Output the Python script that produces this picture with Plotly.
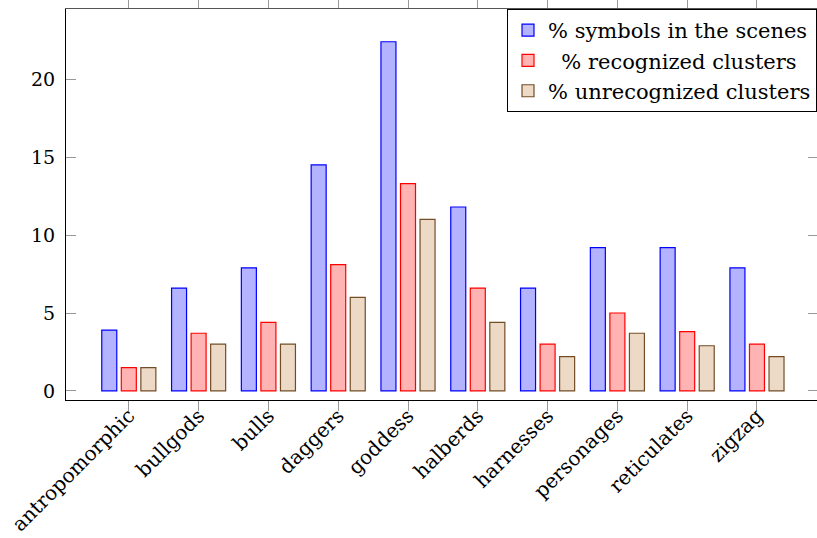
import plotly.graph_objects as go

categories = ["antropomorphic", "bullgods", "bulls", "daggers", "goddess",
              "halberds", "harnesses", "personages", "reticulates", "zigzag"]
symbols_in_scenes = [3.9, 6.6, 7.9, 14.5, 22.4, 11.8, 6.6, 9.2, 9.2, 7.9]
recognized = [1.5, 3.7, 4.4, 8.1, 13.3, 6.6, 3.0, 5.0, 3.8, 3.0]
unrecognized = [1.5, 3.0, 3.0, 6.0, 11.0, 4.4, 2.2, 3.7, 2.9, 2.2]
y_ticks = [0, 5, 10, 15, 20]

FONT = "DejaVu Serif"
BAR_W = 0.215
GAP = 0.28

series = [
    ("% symbols in the scenes", symbols_in_scenes, "#b3b3ff", "#0000ff", -GAP),
    ("\u00a0\u00a0% recognized clusters", recognized, "#ffb3b3", "#ff0000", 0.0),
    ("% unrecognized clusters", unrecognized, "#ecd9c6", "#734d26", GAP),
]

fig = go.Figure()
for name, vals, fill, edge, shift in series:
    fig.add_trace(go.Bar(
        x=categories, y=vals, name=name,
        width=BAR_W, offset=shift - BAR_W / 2,
        marker=dict(color=fill, line=dict(color=edge, width=1.2)),
    ))

# invisible trace so the mirrored top/right axes get ticks
fig.add_trace(go.Scatter(x=categories, y=symbols_in_scenes, xaxis="x2", yaxis="y2",
                         mode="markers", marker=dict(opacity=0), showlegend=False,
                         hoverinfo="skip"))

x_range = [-0.9, 9.86]
y_range = [-0.58, 24.5]

fig.update_layout(
    width=817, height=538,
    margin=dict(l=66, r=0, t=9, b=138),
    plot_bgcolor="white", paper_bgcolor="white",
    font=dict(family=FONT, size=19, color="black"),
    barmode="overlay",
    showlegend=True,
    legend=dict(
        x=1, y=1, xanchor="right", yanchor="top",
        bordercolor="black", borderwidth=1, bgcolor="white",
        font=dict(family=FONT, size=21),
        itemwidth=30, tracegroupgap=0,
    ),
    xaxis=dict(
        range=x_range, showline=True, linecolor="black", linewidth=1.2,
        ticks="outside", ticklen=10, tickcolor="#999999", tickwidth=1,
        tickangle=-45, showgrid=False, zeroline=False, automargin=False,
        tickfont=dict(size=20), ticklabelstandoff=-15,
    ),
    yaxis=dict(
        range=y_range, tickvals=y_ticks, showline=True, linecolor="black", linewidth=1.2,
        ticks="inside", ticklen=10, tickcolor="#999999", tickwidth=1,
        showgrid=False, zeroline=False, ticklabelstandoff=6, automargin=False,
    ),
    xaxis2=dict(
        overlaying="x", side="top", range=x_range, matches="x",
        showline=True, linecolor="#555555", linewidth=1.2,
        ticks="outside", ticklen=10, tickcolor="#999999", showticklabels=False,
        showgrid=False, zeroline=False, automargin=False,
    ),
    yaxis2=dict(
        overlaying="y", side="right", range=y_range, tickvals=y_ticks,
        showline=False, ticks="inside", ticklen=9, tickcolor="#999999",
        showticklabels=False, showgrid=False, zeroline=False, automargin=False,
    ),
)

fig.write_html("out.html")
